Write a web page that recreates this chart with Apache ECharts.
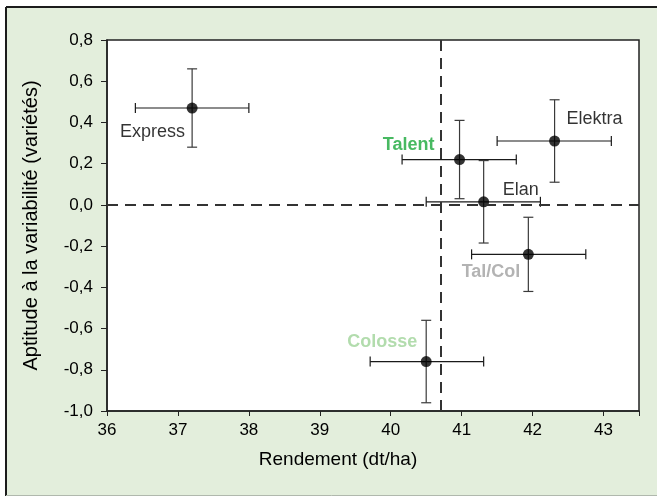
<!DOCTYPE html>
<html>
<head>
<meta charset="utf-8">
<script src="https://cdn.jsdelivr.net/npm/echarts@6/dist/echarts.min.js"></script>
<style>
html,body{margin:0;padding:0;background:#fff;}
#chart{width:657px;height:497px;}
</style>
</head>
<body>
<div id="chart"></div>
<script>
// ---- data ----
const names   = ['Express', 'Talent', 'Elan', 'Elektra', 'Tal/Col', 'Colosse'];
const yieldX  = [37.20, 40.97, 41.31, 42.31, 41.94, 40.50];
const aptY    = [0.47, 0.22, 0.015, 0.31, -0.24, -0.76];
const xLow    = [36.40, 40.16, 40.50, 41.50, 41.14, 39.71];
const xHigh   = [38.00, 41.77, 42.11, 43.11, 42.75, 41.31];
const yLow    = [0.28, 0.03, -0.185, 0.11, -0.42, -0.96];
const yHigh   = [0.66, 0.41, 0.215, 0.51, -0.06, -0.56];
const refYield = 40.70;   // vertical dashed reference
const refApt   = 0.0;     // horizontal dashed reference
const xTicks = { min: 36, max: 43.5, step: 1 };
const yTicks = { min: -1.0, max: 0.8, step: 0.2 };

// ---- styling (not data) ----
const FONT = '"Liberation Sans", Arial, sans-serif';
const labelStyle = [
  { align: 'right', offset: [-7, 24],  color: '#000000', fontWeight: 'normal' },
  { align: 'right', offset: [-25, -15], color: '#19a83a', fontWeight: 'bold' },
  { align: 'left',  offset: [19, -12], color: '#000000', fontWeight: 'normal' },
  { align: 'left',  offset: [12, -22], color: '#000000', fontWeight: 'normal' },
  { align: 'right', offset: [-8, 18],  color: '#a0a0a0', fontWeight: 'bold' },
  { align: 'right', offset: [-9, -20], color: '#9fd399', fontWeight: 'bold' }
];

const pointData = names.map((n, i) => ({
  name: n,
  value: [yieldX[i], aptY[i]],
  label: {
    show: true,
    formatter: n,
    position: 'inside',
    verticalAlign: 'middle',
    align: labelStyle[i].align,
    offset: labelStyle[i].offset,
    color: labelStyle[i].color,
    fontWeight: labelStyle[i].fontWeight,
    fontSize: 18,
    fontFamily: FONT
  }
}));

const errData = names.map((n, i) => [yieldX[i], aptY[i], xLow[i], xHigh[i], yLow[i], yHigh[i]]);

const chart = echarts.init(document.getElementById('chart'), null, { renderer: 'canvas' });

chart.setOption({
  animation: false,
  backgroundColor: '#ffffff',
  graphic: [
    { type: 'rect', z: -10, shape: { x: 6, y: 7, width: 660, height: 489 },
      style: { fill: '#e3eedc' } },
    { type: 'line', z: -9, shape: { x1: 6, y1: 7, x2: 657, y2: 7 },
      style: { stroke: '#1c1c1c', lineWidth: 2 } },
    { type: 'line', z: -9, shape: { x1: 6, y1: 7, x2: 6, y2: 496 },
      style: { stroke: '#1c1c1c', lineWidth: 2 } },
    { type: 'line', z: -9, shape: { x1: 6, y1: 495.5, x2: 657, y2: 495.5 },
      style: { stroke: '#b0b8ad', lineWidth: 1 } }
  ],
  grid: {
    left: 107, right: 18, top: 40, bottom: 86,
    show: true, backgroundColor: '#ffffff', borderColor: '#222222', borderWidth: 1.5
  },
  xAxis: {
    type: 'value',
    min: xTicks.min, max: xTicks.max, interval: xTicks.step,
    name: 'Rendement (dt/ha)',
    nameLocation: 'middle',
    nameGap: 39,
    nameTextStyle: { fontSize: 19, fontFamily: FONT, color: '#000', padding: [0, 70, 0, 0] },
    axisLine: { show: true, onZero: false, lineStyle: { color: '#222', width: 1.5 } },
    axisTick: { show: true, length: 5, lineStyle: { color: '#222' } },
    axisLabel: {
      fontSize: 17, fontFamily: FONT, color: '#000', margin: 11,
      formatter: v => (Math.abs(v - Math.round(v)) < 1e-6 ? String(Math.round(v)) : '')
    },
    splitLine: { show: false }
  },
  yAxis: {
    type: 'value',
    min: yTicks.min, max: yTicks.max, interval: yTicks.step,
    name: 'Aptitude à la variabilité (variétés)',
    nameLocation: 'middle',
    nameGap: 66,
    nameTextStyle: { fontSize: 20, fontFamily: FONT, color: '#000' },
    axisLine: { show: true, onZero: false, lineStyle: { color: '#222', width: 1.5 } },
    axisTick: { show: true, length: 6, lineStyle: { color: '#222' } },
    axisLabel: {
      fontSize: 17, fontFamily: FONT, color: '#000', margin: 14,
      formatter: v => { const s = (Math.round(v * 10) / 10).toFixed(1).replace('.', ','); return s === '-0,0' ? '0,0' : s; }
    },
    splitLine: { show: false }
  },
  series: [
    {
      type: 'line',
      data: [],
      z: 1,
      silent: true,
      markLine: {
        silent: true,
        symbol: ['none', 'none'],
        label: { show: false },
        lineStyle: { color: '#333333', width: 2, type: [11, 7] },
        data: [ { xAxis: refYield }, { yAxis: refApt } ]
      }
    },
    {
      type: 'custom',
      z: 2,
      silent: true,
      data: errData,
      renderItem: function (params, api) {
        const x = api.value(0), y = api.value(1);
        const pL = api.coord([api.value(2), y]);
        const pR = api.coord([api.value(3), y]);
        const pB = api.coord([x, api.value(4)]);
        const pT = api.coord([x, api.value(5)]);
        const cap = 5;
        const hs = { stroke: '#1a1a1a', lineWidth: 1.2 };
        const vs = { stroke: '#3a3a3a', lineWidth: 1.2 };
        return {
          type: 'group',
          children: [
            { type: 'line', shape: { x1: pL[0], y1: pL[1], x2: pR[0], y2: pR[1] }, style: hs },
            { type: 'line', shape: { x1: pL[0], y1: pL[1] - cap, x2: pL[0], y2: pL[1] + cap }, style: hs },
            { type: 'line', shape: { x1: pR[0], y1: pR[1] - cap, x2: pR[0], y2: pR[1] + cap }, style: hs },
            { type: 'line', shape: { x1: pB[0], y1: pB[1], x2: pT[0], y2: pT[1] }, style: vs },
            { type: 'line', shape: { x1: pB[0] - cap, y1: pB[1], x2: pB[0] + cap, y2: pB[1] }, style: vs },
            { type: 'line', shape: { x1: pT[0] - cap, y1: pT[1], x2: pT[0] + cap, y2: pT[1] }, style: vs }
          ]
        };
      }
    },
    {
      type: 'scatter',
      z: 3,
      symbol: 'circle',
      symbolSize: 11,
      itemStyle: { color: '#000000' },
      data: pointData
    }
  ]
});
</script>
</body>
</html>
